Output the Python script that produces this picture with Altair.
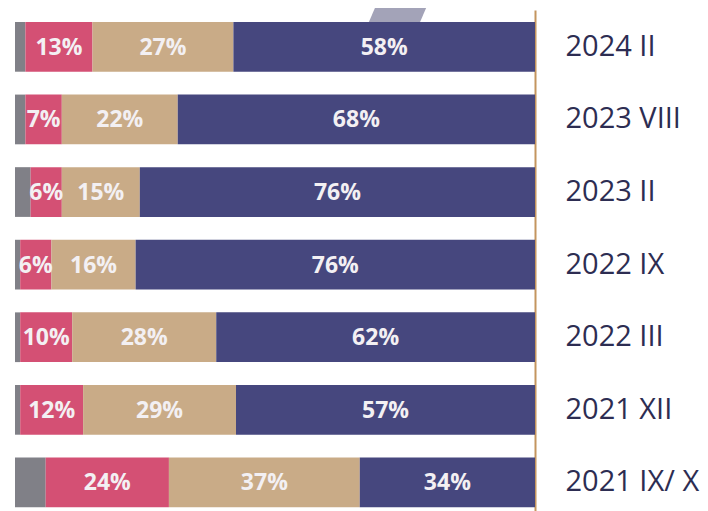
import altair as alt
import pandas as pd

rows = ["2024 II", "2023 VIII", "2023 II", "2022 IX", "2022 III", "2021 XII", "2021 IX/ X"]
series = ["other", "pink", "tan", "navy"]
colors = ["#808087", "#d45074", "#c9ab87", "#46477e"]

other_vals = [2.0, 2.0, 3.0, 1.0, 1.0, 1.0, 5.9]
pink_vals = [12.9, 7.0, 6.0, 6.0, 10.0, 12.1, 23.7]
tan_vals = [27.1, 22.3, 15.0, 16.2, 27.7, 29.4, 36.7]
navy_vals = [58.0, 68.7, 76.0, 76.8, 61.3, 57.5, 33.7]

pink_labels = ["13%", "7%", "6%", "6%", "10%", "12%", "24%"]
tan_labels = ["27%", "22%", "15%", "16%", "28%", "29%", "37%"]
navy_labels = ["58%", "68%", "76%", "76%", "62%", "57%", "34%"]

recs = []
for i, r in enumerate(rows):
    vals = [other_vals[i], pink_vals[i], tan_vals[i], navy_vals[i]]
    labs = ["", pink_labels[i], tan_labels[i], navy_labels[i]]
    total = sum(vals)
    acc = 0.0
    for k, s in enumerate(series):
        x0 = acc / total
        acc += vals[k]
        x1 = acc / total
        recs.append({"row": r, "series": s, "x0": x0, "x1": x1,
                     "mid": (x0 + x1) / 2, "label": labs[k]})
df = pd.DataFrame(recs)

xscale = alt.Scale(domain=[0, 1], nice=False, zero=False)
yscale = alt.Scale(paddingInner=0.315, paddingOuter=0.108, align=0.764)

base = alt.Chart(df)

bars = base.mark_bar(strokeWidth=0).encode(
    y=alt.Y("row:N", sort=rows, scale=yscale,
            axis=alt.Axis(orient="right", title=None, ticks=False, domain=True,
                          domainColor="#c4955f", domainWidth=2, labelFontSize=29,
                          labelFont="Open Sans", labelColor="#2d2d52", labelPadding=30,
                          labelAlign="left", labelBaseline="middle")),
    x=alt.X("x0:Q", scale=xscale, axis=None),
    x2="x1:Q",
    color=alt.Color("series:N", scale=alt.Scale(domain=series, range=colors), legend=None),
)

texts = base.mark_text(font="Open Sans", fontWeight="bold", fontSize=23,
                       color="#f3f0f3", baseline="middle", dy=1).encode(
    y=alt.Y("row:N", sort=rows, scale=yscale),
    x=alt.X("mid:Q", scale=xscale),
    text="label:N",
)

deco = alt.Chart(pd.DataFrame({"a": [0]})).mark_rule(
    color="#a3a3b8", strokeWidth=47, strokeCap="butt").encode(
    x=alt.value(371.7), x2=alt.value(392.0),
    y=alt.value(30), y2=alt.value(-17),
)

chart = alt.layer(deco, bars, texts).properties(
    width=520, height=501,
    padding={"left": 7, "top": 2, "right": 165, "bottom": 0},
    autosize=alt.AutoSizeParams(type="none"),
).configure_view(stroke=None)

chart.save("out.html", embed_options={"renderer": "svg", "actions": False})
